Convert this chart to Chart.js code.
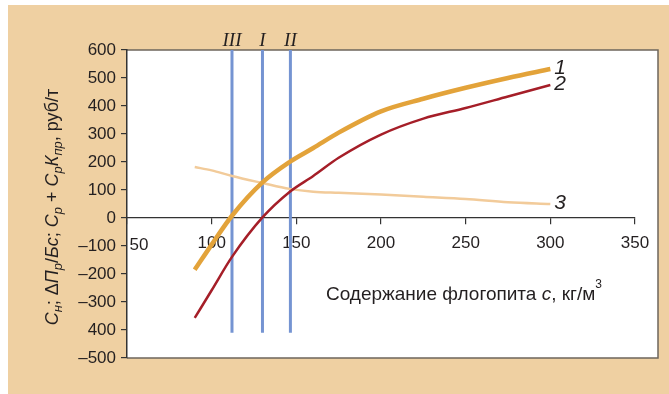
<!DOCTYPE html>
<html lang="ru">
<head>
    <meta charset="UTF-8">
    <title>Содержание флогопита</title>
    <script src="https://cdn.jsdelivr.net/npm/chart.js"></script>
</head>
<style>
    body { margin: 0; background: #fff; }
    .chart-container { width: 669px; height: 394px; }
</style>
<body>
    <div class="chart-container">
        <canvas id="flogopitChart" width="669" height="394"></canvas>
    </div>

    <script>
        // содержание флогопита c, кг/м3
        const cValues = [90, 100, 112, 130, 146, 160, 175, 200, 225, 250, 275, 300];
        // кривая 1, 2, 3 (руб/т)
        const curve1 = [-185, -95, 8, 127, 200, 250, 305, 381, 426, 465, 500, 532];
        const curve2 = [-357, -258, -139, 2, 93, 150, 215, 298, 355, 393, 434, 475];
        const curve3 = [182, 170, 150, 125, 104, 94, 90, 84, 76, 68, 56, 50];
        const curveNames = ['1', '2', '3'];

        // вертикальные линии III, I, II
        const markerNames = ['III', 'I', 'II'];
        const markerX = [112, 130, 146.5];
        const markerTop = 600;
        const markerBottom = -410;

        const xTickLabels = ['50', '100', '150', '200', '250', '300', '350'];
        const yTickLabels = ['–500', '400', '–300', '–200', '–100', '0', '100', '200', '300', '400', '500', '600'];

        const SANS = "'Liberation Sans', Arial, sans-serif";
        const SERIF = "'Liberation Serif', 'Times New Roman', serif";
        const INK = '#231f20';

        const toPoints = ys => cValues.map((x, i) => ({x: x, y: ys[i]}));

        const datasets = [
            {label: '1', data: toPoints(curve1), borderColor: '#e3a33a', borderWidth: 4.5, order: 1},
            {label: '2', data: toPoints(curve2), borderColor: '#a51e28', borderWidth: 2.5, order: 2},
            {label: '3', data: toPoints(curve3), borderColor: '#f2cb9a', borderWidth: 2.5, order: 3}
        ];
        markerX.forEach((x, i) => {
            datasets.push({
                label: markerNames[i],
                data: [{x: x, y: markerTop}, {x: x, y: markerBottom}],
                borderColor: '#7594d2', borderWidth: 3, tension: 0, order: 10
            });
        });

        // фон: рамка и белое поле
        const backdrop = {
            id: 'backdrop',
            beforeDraw(chart) {
                const ctx = chart.ctx;
                const xs = chart.scales.x, ys = chart.scales.y;
                const left = xs.getPixelForValue(xs.min);
                const right = xs.getPixelForValue(xs.max) + 23;
                const top = ys.getPixelForValue(ys.max);
                const bottom = ys.getPixelForValue(ys.min);
                ctx.save();
                ctx.fillStyle = '#ffffff';
                ctx.fillRect(0, 0, chart.width, chart.height);
                ctx.fillStyle = '#efd0a2';
                ctx.fillRect(8, 5, chart.width - 8, chart.height - 5);
                ctx.fillStyle = '#ffffff';
                ctx.fillRect(left, top, right - left, bottom - top);
                ctx.strokeStyle = '#6e655c';
                ctx.lineWidth = 1.5;
                ctx.beginPath();
                ctx.moveTo(left, top);
                ctx.lineTo(right, top);
                ctx.lineTo(right, bottom);
                ctx.lineTo(left, bottom);
                ctx.stroke();
                ctx.restore();
            }
        };

        function drawRich(ctx, segs, x, y) {
            let total = 0;
            segs.forEach(s => { ctx.font = s.font; total += ctx.measureText(s.t).width; });
            let cx = x - total / 2;
            segs.forEach(s => {
                ctx.font = s.font;
                ctx.fillText(s.t, cx, y + (s.dy || 0));
                cx += ctx.measureText(s.t).width;
            });
        }

        const N = '19px ' + SANS, I = 'italic 19px ' + SANS;
        const NY = '18px ' + SANS, IY = 'italic 18px ' + SANS, SY = 'italic 13px ' + SANS;
        const yTitle = [
            {t: 'С', font: IY}, {t: 'н', font: SY, dy: 4}, {t: '; Δ', font: NY},
            {t: 'П', font: IY}, {t: 'р', font: SY, dy: 4}, {t: '/', font: NY},
            {t: 'Бс', font: IY}, {t: '; ', font: NY}, {t: 'С', font: IY}, {t: 'р', font: SY, dy: 4},
            {t: ' + ', font: NY}, {t: 'С', font: IY}, {t: 'р', font: SY, dy: 4},
            {t: 'К', font: IY}, {t: 'пр', font: SY, dy: 4}, {t: ', руб/т', font: NY}
        ];
        const xTitle = [
            {t: 'Содержание флогопита ', font: N}, {t: 'c', font: I},
            {t: ', кг/м', font: N}, {t: '3', font: '12px ' + SANS, dy: -12}
        ];

        const annotations = {
            id: 'annotations',
            afterDraw(chart) {
                const ctx = chart.ctx;
                const xs = chart.scales.x, ys = chart.scales.y;
                const top = ys.getPixelForValue(ys.max);
                const bottom = ys.getPixelForValue(ys.min);
                ctx.save();
                ctx.fillStyle = INK;
                ctx.textBaseline = 'alphabetic';
                ctx.textAlign = 'left';

                // подписи осей
                drawRich(ctx, xTitle, xs.getPixelForValue(xs.min) + 337, 300);
                ctx.save();
                ctx.translate(58, (top + bottom) / 2 + 3);
                ctx.rotate(-Math.PI / 2);
                drawRich(ctx, yTitle, 0, 0);
                ctx.restore();

                // первая метка оси x сдвинута вправо
                ctx.font = '17px ' + SANS;
                ctx.textAlign = 'center';
                ctx.textBaseline = 'middle';
                ctx.fillText(xTickLabels[0], xs.getPixelForValue(50) + 12, ys.getPixelForValue(0) + 27);

                // III, I, II
                ctx.font = 'italic 19px ' + SERIF;
                ctx.textBaseline = 'alphabetic';
                markerX.forEach((x, i) => {
                    ctx.fillText(markerNames[i], xs.getPixelForValue(x), top - 4);
                });

                // номера кривых
                ctx.font = 'italic 21px ' + SANS;
                ctx.textAlign = 'left';
                ctx.textBaseline = 'middle';
                [curve1, curve2, curve3].forEach((ys_, i) => {
                    const last = ys_.length - 1;
                    ctx.fillText(curveNames[i], xs.getPixelForValue(cValues[last]) + 4, ys.getPixelForValue(ys_[last]) - 1);
                });
                ctx.restore();
            }
        };

        new Chart(document.getElementById('flogopitChart').getContext('2d'), {
            type: 'line',
            data: {datasets: datasets},
            options: {
                responsive: false,
                animation: false,
                devicePixelRatio: 1,
                layout: {padding: {left: 0, top: 50, right: 34, bottom: 36}},
                elements: {
                    point: {radius: 0},
                    line: {tension: 0.4, cubicInterpolationMode: 'monotone', fill: false, borderCapStyle: 'butt'}
                },
                plugins: {legend: {display: false}, tooltip: {enabled: false}},
                scales: {
                    x: {
                        type: 'linear',
                        position: {y: 0},
                        min: 50, max: 350,
                        ticks: {
                            stepSize: 50,
                            color: INK,
                            font: {family: SANS, size: 17},
                            padding: 9,
                            maxRotation: 0,
                            callback: (v, i) => i === 0 ? '' : xTickLabels[i]
                        },
                        grid: {drawOnChartArea: false, drawTicks: true, tickLength: 6, color: '#333', lineWidth: 1.2},
                        border: {display: true, color: '#333', width: 1.3}
                    },
                    y: {
                        min: -500, max: 600,
                        ticks: {
                            stepSize: 100,
                            color: INK,
                            font: {family: SANS, size: 17},
                            padding: 5,
                            callback: (v, i) => yTickLabels[i]
                        },
                        grid: {drawOnChartArea: false, drawTicks: true, tickLength: 6, color: '#333', lineWidth: 1.2},
                        border: {display: true, color: '#333', width: 1.5},
                        afterFit(scale) { scale.width = 127; }
                    }
                }
            },
            plugins: [backdrop, annotations]
        });
    </script>
</body>
</html>
